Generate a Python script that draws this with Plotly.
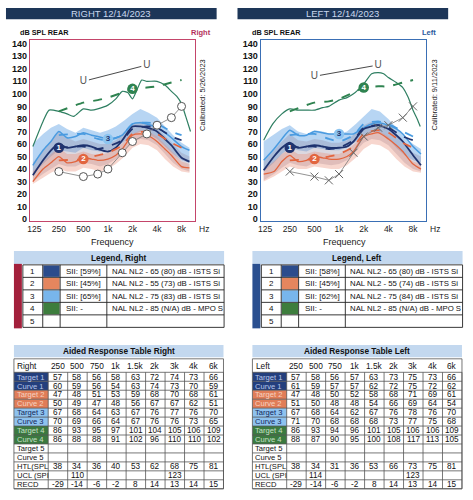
import plotly.graph_objects as go
import math

W, H = 473, 500

# ---------------- DATA ----------------
table_freqs = [250, 500, 750, 1000, 1500, 2000, 3000, 4000, 6000]
table_freq_labels = ["250", "500", "750", "1k", "1.5k", "2k", "3k", "4k", "6k"]
target_freqs = [250, 500, 750, 1000, 1500, 2000, 3000, 4000, 6000, 8000]
htl_freqs = [250, 500, 750, 1000, 1500, 2000, 3000, 4000, 6000, 8000]

x_tick_vals = [125, 250, 500, 1000, 2000, 4000, 8000]
x_tick_text = ["125", "250", "500", "1k", "2k", "4k", "8k"]
y_tick_vals = list(range(0, 141, 10))

# Right ear table values
R_target1 = [57, 58, 56, 58, 63, 72, 74, 73, 66]
R_curve1 = [60, 59, 56, 54, 63, 74, 73, 70, 59]
R_target2 = [47, 48, 51, 53, 59, 68, 70, 68, 61]
R_curve2 = [50, 49, 47, 48, 56, 67, 67, 62, 51]
R_target3 = [67, 68, 64, 63, 67, 76, 77, 76, 70]
R_curve3 = [70, 69, 66, 64, 67, 76, 76, 73, 65]
R_target4 = [86, 93, 95, 97, 101, 104, 105, 106, 109]
R_curve4 = [86, 88, 88, 91, 102, 96, 110, 110, 102]
R_htl = [38, 34, 36, 40, 53, 62, 68, 75, 81]
R_ucl = [None, 110, None, None, None, None, 123, None, None]
R_recd = [-29, -14, -6, -2, 8, 14, 13, 14, 15]

# Left ear table values
L_target1 = [57, 58, 56, 57, 63, 73, 75, 73, 66]
L_curve1 = [61, 59, 57, 57, 62, 72, 75, 72, 62]
L_target2 = [47, 48, 50, 52, 58, 68, 71, 69, 61]
L_curve2 = [51, 50, 48, 48, 54, 66, 69, 64, 54]
L_target3 = [67, 68, 64, 62, 67, 76, 78, 76, 70]
L_curve3 = [71, 70, 68, 68, 68, 73, 77, 75, 68]
L_target4 = [86, 93, 94, 96, 101, 105, 106, 106, 109]
L_curve4 = [88, 87, 90, 95, 100, 108, 117, 113, 105]
L_htl = [38, 34, 31, 36, 53, 66, 73, 75, 81]
L_ucl = [None, 114, None, None, None, None, 123, None, None]
L_recd = [-29, -14, -6, -2, 8, 14, 13, 14, 15]

# 8 kHz values (not in table)
R_target_8k = [63, 57, 67, 111]
L_target_8k = [63, 57, 66, 111]
R_htl_8k = 90
L_htl_8k = 90

curve_freqs = [120, 160, 200, 250, 315, 400, 500, 630, 750, 1000, 1250, 1500,
               2000, 2500, 3000, 4000, 5000, 6000, 8000, 10000]
R_c1_full = [35, 47, 55, 60, 57, 58, 59, 58, 56, 54, 57, 63, 74, 74, 73, 70, 64, 59, 49, 46]
R_c2_full = [30, 40, 45, 50, 45, 46, 49, 48, 47, 48, 51, 56, 67, 68, 67, 62, 56, 51, 42, 41]
R_c3_full = [43, 55, 62, 70, 65, 66, 69, 67, 66, 64, 65, 67, 76, 77, 76, 73, 69, 65, 58, 55]
L_c1_full = [39, 50, 57, 61, 57, 58, 59, 58, 57, 57, 58, 62, 72, 74, 75, 72, 67, 62, 51, 43]
L_c2_full = [36, 38, 46, 51, 46, 47, 50, 49, 48, 48, 50, 54, 66, 68, 69, 64, 59, 54, 44, 40]
L_c3_full = [47, 56, 64, 71, 67, 67, 70, 69, 68, 68, 68, 68, 73, 76, 77, 75, 72, 68, 58, 52]

R_mpo_freqs = [120, 160, 190, 250, 315, 380, 500, 630, 750, 1000, 1250, 1500, 1750,
               2000, 2300, 2600, 3000, 4000, 5000, 6000, 7000, 8000, 9000, 10300]
R_c4_full = [58, 78, 87, 86, 84, 82, 88, 87, 88, 91, 96, 102, 101,
             96, 104, 111, 110, 110, 107, 102, 98, 92, 82, 70]
L_mpo_freqs = [120, 155, 200, 250, 315, 400, 500, 630, 750, 1000, 1250, 1500,
               2000, 2500, 3000, 3500, 4000, 5000, 6000, 7000, 8000, 9000, 9800]
L_c4_full = [63, 76, 84, 88, 87, 87, 87, 89, 90, 95, 97, 100,
             108, 116, 117, 116, 113, 109, 105, 97, 87, 80, 74]

# speech ranges (shaded bands)
band_freqs = [120, 160, 200, 250, 315, 400, 500, 630, 800, 1000, 1250, 1600,
              2000, 2500, 3150, 4000, 5000, 6300, 8000, 10000]
R_b3_hi = [60, 68, 73, 76, 72, 69, 73, 71, 69, 71, 74, 79, 84, 88, 85, 81, 74, 67, 61, 57]
R_b3_lo = [36, 44, 50, 55, 54, 53, 57, 55, 54, 55, 57, 62, 67, 70, 68, 64, 58, 52, 47, 45]
R_b1_hi = [45, 55, 63, 70, 65, 62, 64, 62, 60, 60, 63, 70, 76, 78, 77, 73, 67, 60, 53, 50]
R_b1_lo = [30, 36, 40, 44, 42, 42, 45, 44, 42, 44, 48, 55, 62, 64, 63, 59, 52, 45, 40, 38]
R_b2_hi = [38, 46, 52, 57, 52, 52, 54, 52, 51, 53, 56, 62, 68, 71, 70, 66, 60, 53, 46, 44]
R_b2_lo = [28, 33, 37, 40, 38, 38, 41, 40, 38, 40, 44, 50, 57, 60, 59, 55, 48, 42, 38, 37]
L_b3_hi = [62, 68, 72, 75, 70, 68, 71, 70, 68, 68, 70, 76, 82, 88, 86, 80, 73, 66, 60, 56]
L_b3_lo = [38, 45, 52, 57, 55, 54, 57, 56, 55, 55, 57, 62, 67, 70, 69, 64, 57, 51, 47, 45]
L_b1_hi = [46, 55, 62, 68, 63, 62, 64, 63, 61, 61, 63, 69, 75, 78, 77, 73, 66, 59, 53, 50]
L_b1_lo = [31, 36, 41, 45, 43, 42, 45, 44, 43, 44, 47, 54, 61, 64, 63, 59, 52, 45, 40, 38]
L_b2_hi = [40, 46, 52, 56, 52, 52, 54, 53, 52, 52, 55, 61, 67, 71, 70, 66, 59, 52, 46, 44]
L_b2_lo = [30, 34, 38, 42, 40, 40, 42, 41, 40, 40, 43, 49, 56, 60, 59, 55, 48, 42, 38, 37]

# legend tables
R_sii = ["SII: [59%]", "SII: [45%]", "SII: [65%]", "SII: -", ""]
L_sii = ["SII: [58%]", "SII: [45%]", "SII: [62%]", "SII: -", ""]
R_desc = ["NAL NL2 - 65 (80) dB - ISTS Si", "NAL NL2 - 55 (73) dB - ISTS Si",
          "NAL NL2 - 75 (83) dB - ISTS Si", "NAL NL2 - 85 (N/A) dB - MPO S", ""]
L_desc = ["NAL NL2 - 65 (80) dB - ISTS Si", "NAL NL2 - 55 (74) dB - ISTS Si",
          "NAL NL2 - 75 (84) dB - ISTS Si", "NAL NL2 - 85 (N/A) dB - MPO S", ""]
legend_nums = ["1", "2", "3", "4", "5"]
row_labels = ["Target 1", "Curve 1", "Target 2", "Curve 2", "Target 3", "Curve 3",
              "Target 4", "Curve 4", "Target 5", "Curve 5", "HTL(SPL", "UCL (SPI", "RECD"]

# ---------------- STYLE ----------------
NAVY = "#1f336f"
ORANGE = "#e2653f"
LBLUE = "#4a9be0"
GREEN = "#2f8350"
GREEN_S = "#2f7f62"
SW = ["#2b4c8c", "#e5865e", "#78b6ec", "#3d7d3d", "#ffffff"]
FONT = "Liberation Sans, Arial, sans-serif"

def px(x):
    return x / W

def py(y):
    return 1 - y / H

shapes = []
annotations = []

def rect(x0, y0, x1, y1, fill=None, line=None, lw=1):
    shapes.append(dict(type="rect", xref="paper", yref="paper",
                       x0=px(x0), x1=px(x1), y0=py(y1), y1=py(y0),
                       fillcolor=fill if fill else "rgba(0,0,0,0)",
                       line=dict(color=line if line else "rgba(0,0,0,0)",
                                 width=lw if line else 0)))

def hline(x0, x1, y, color="#555", lw=0.8):
    shapes.append(dict(type="line", xref="paper", yref="paper",
                       x0=px(x0), x1=px(x1), y0=py(y), y1=py(y),
                       line=dict(color=color, width=lw)))

def vline(x, y0, y1, color="#555", lw=0.8):
    shapes.append(dict(type="line", xref="paper", yref="paper",
                       x0=px(x), x1=px(x), y0=py(y0), y1=py(y1),
                       line=dict(color=color, width=lw)))

def text(x, y, s, size=8.5, color="#111", bold=False, xanchor="center", angle=0):
    annotations.append(dict(x=px(x), y=py(y), xref="paper", yref="paper",
                            text=s, showarrow=False, xanchor=xanchor, yanchor="middle",
                            textangle=angle,
                            font=dict(family=FONT, size=size, color=color,
                                      weight="bold" if bold else "normal")))

fig = go.Figure()

# ---------------- CHARTS ----------------
def add_chart(xa, ya, c1, c2, c3, mpo_f, c4, bands, targets, t8k, htl, h8k, ucl, marker_sym):
    def band(lo, hi, color):
        fig.add_trace(go.Scatter(x=band_freqs + band_freqs[::-1], y=hi + lo[::-1],
                                 fill="toself", fillcolor=color, line=dict(width=0),
                                 mode="lines", hoverinfo="skip", showlegend=False,
                                 xaxis=xa, yaxis=ya))
    (b3lo, b3hi), (b1lo, b1hi), (b2lo, b2hi) = bands
    band(b3lo, b3hi, "rgba(112,172,232,0.50)")
    band(b1lo, b1hi, "rgba(150,140,165,0.34)")
    band(b2lo, b2hi, "rgba(232,140,118,0.36)")

    def line(xs, ys, color, width, dash="solid"):
        fig.add_trace(go.Scatter(x=xs, y=ys, mode="lines",
                                 line=dict(color=color, width=width, dash=dash, shape="spline",
                                           smoothing=0.6),
                                 showlegend=False, xaxis=xa, yaxis=ya))
    t1, t2, t3, t4 = targets
    line(curve_freqs, c3, LBLUE, 1.5)
    line(curve_freqs, c2, ORANGE, 1.3)
    line(curve_freqs, c1, NAVY, 1.8)
    line(mpo_f, c4, GREEN_S, 1.2)
    line(target_freqs, t3 + [t8k[2]], LBLUE, 1.8, "dash")
    line(target_freqs, t2 + [t8k[1]], ORANGE, 1.8, "dash")
    line(target_freqs, t1 + [t8k[0]], NAVY, 1.8, "dash")
    line(target_freqs, t4 + [t8k[3]], GREEN, 2.0, "dash")

    if marker_sym == "circle":
        mk = dict(symbol="circle", size=8, color="white", line=dict(color="#555", width=1))
    else:
        mk = dict(symbol="x-thin", size=8, color="#666", line=dict(color="#666", width=1))
    fig.add_trace(go.Scatter(x=htl_freqs, y=htl + [h8k], mode="lines+markers",
                             line=dict(color="#777", width=0.8), marker=mk,
                             showlegend=False, xaxis=xa, yaxis=ya))
    ux = [f for f, u in zip(table_freqs, ucl) if u is not None]
    uy = [u for u in ucl if u is not None]
    fig.add_trace(go.Scatter(x=ux, y=uy, mode="lines+markers+text", text=["U"] * len(ux),
                             textposition="middle center",
                             textfont=dict(family=FONT, size=10, color="#555"),
                             line=dict(color="#333", width=0.9),
                             marker=dict(symbol="square", size=11, color="white"),
                             showlegend=False, xaxis=xa, yaxis=ya))
    idx = [0, 1, 3, 5]
    lx = [table_freqs[i] for i in idx]
    ly = [t1[idx[0]], t2[idx[1]], c3[curve_freqs.index(table_freqs[idx[2]])], t4[idx[3]]]
    fig.add_trace(go.Scatter(x=lx, y=ly, mode="markers+text", text=["1", "2", "3", "4"],
                             textposition="middle center",
                             textfont=dict(family=FONT, size=8, color=["white", "white", NAVY, "white"],
                                           weight="bold"),
                             marker=dict(size=10.5, color=[NAVY, ORANGE, "#8cc4f0", GREEN],
                                         line=dict(width=0)),
                             showlegend=False, xaxis=xa, yaxis=ya))

add_chart("x", "y", R_c1_full, R_c2_full, R_c3_full, R_mpo_freqs, R_c4_full,
          [(R_b3_lo, R_b3_hi), (R_b1_lo, R_b1_hi), (R_b2_lo, R_b2_hi)],
          [R_target1, R_target2, R_target3, R_target4], R_target_8k, R_htl, R_htl_8k, R_ucl,
          "circle")
add_chart("x2", "y2", L_c1_full, L_c2_full, L_c3_full, L_mpo_freqs, L_c4_full,
          [(L_b3_lo, L_b3_hi), (L_b1_lo, L_b1_hi), (L_b2_lo, L_b2_hi)],
          [L_target1, L_target2, L_target3, L_target4], L_target_8k, L_htl, L_htl_8k, L_ucl,
          "x")

xr = [math.log10(125) - (4.5 / 24.7) * math.log10(2), 0]
xr[1] = xr[0] + (166 / 24.7) * math.log10(2)
yr = [-1.6, 143.2]

def xaxis_cfg(d0, d1, color, anchor):
    return dict(type="log", range=xr, domain=[px(d0), px(d1)], tickvals=x_tick_vals,
                ticktext=x_tick_text, showgrid=False, zeroline=False, showline=True,
                mirror=True, linecolor=color, linewidth=1, ticks="", anchor=anchor,
                tickfont=dict(family=FONT, size=8.5, color="#222"), fixedrange=True)

def yaxis_cfg(anchor, color):
    return dict(range=yr, domain=[py(222), py(39)], tickvals=y_tick_vals,
                showgrid=False, zeroline=False, showline=True, mirror=True,
                linecolor=color, linewidth=1, ticks="", anchor=anchor,
                tickfont=dict(family=FONT, size=9, color="#111", weight="bold"),
                fixedrange=True)

RED_B = "#c4456a"
BLUE_B = "#3a6fb5"

for (x0, x1, title, side, col, cal, fx, cx, sx, dbx) in [
        (3, 215, "RIGHT 12/14/2023", "Right", "#b3305a", "Calibrated: 5/26/2023", 110, 201, 199, 15),
        (236, 448, "LEFT 12/14/2023", "Left", "#2a5aa0", "Calibrated: 9/11/2023", 344, 434, 429, 249)]:
    rect(x0, 7, x1, 18.3, fill="#1d3658")
    text((x0 + x1) / 2, 12.8, title, size=9.5, color="#c9d6ee")
    text(dbx, 31.5, "dB SPL REAR", size=7.3, bold=True, color="#111", xanchor="left")
    text(sx, 31.5, side, size=7.5, bold=True, color=col)
    text(cx, 95, cal, size=7.5, color="#222", angle=-90)
    text(fx, 243, "Frequency", size=9, color="#222")
text(202, 229.5, "Hz", size=8.5, color="#222")
text(435, 229.5, "Hz", size=8.5, color="#222")

# ---------------- LEGEND TABLES ----------------
def legend_table(x0, strip_color, title, sii, desc):
    cols = [0, 20, 37.5, 84.5, 202.5]
    tx = x0 + 9
    rect(x0, 252, tx + cols[-1], 265, fill="#c3d8ef")
    text((x0 + tx + cols[-1]) / 2, 258.6, title, size=8.3, bold=True, color="#111")
    rect(x0, 265, x0 + 8, 330, fill=strip_color)
    top, rh = 266, 12.6
    for i in range(5):
        y0 = top + i * rh
        rect(tx + cols[1] + 0.5, y0 + 0.5, tx + cols[2] - 0.5, y0 + rh - 0.5, fill=SW[i])
        text(tx + (cols[0] + cols[1]) / 2, y0 + rh / 2, legend_nums[i], size=8)
        text(tx + cols[2] + 4, y0 + rh / 2, sii[i], size=8, xanchor="left")
        text(tx + cols[3] + 3, y0 + rh / 2, desc[i], size=7.8, xanchor="left")
    for i in range(6):
        hline(tx, tx + cols[-1], top + i * rh, color="#222", lw=0.9)
    for c in cols:
        vline(tx + c, top, top + 5 * rh, color="#222", lw=0.9)

legend_table(11, "#a3203c", "Legend, Right", R_sii, R_desc)
legend_table(251, "#2a4f8f", "Legend, Left", L_sii, L_desc)

# ---------------- DATA TABLES ----------------
label_styles = [("#233f7d", "#b9c6ea"), ("#233f7d", "#b9c6ea"),
                ("#e07d58", "#f6d2c0"), ("#e07d58", "#f6d2c0"),
                ("#8ec2ef", "#14285a"), ("#8ec2ef", "#14285a"),
                ("#3b7a40", "#c6e0c6"), ("#3b7a40", "#c6e0c6")]

def data_table(x0, title, corner, rows):
    lw_, cw = 34.5, 19.6
    x_end = x0 + lw_ + 9 * cw
    rect(x0, 346.7, x_end, 359, fill="#c3d8ef")
    text((x0 + x_end) / 2, 353, title, size=8.3, bold=True, color="#111")
    hy0, hy1 = 360.7, 374.3
    rh = (491.7 - hy1) / 13
    text(x0 + 1.5, (hy0 + hy1) / 2, corner, size=8.3, xanchor="left")
    for j, lab in enumerate(table_freq_labels):
        text(x0 + lw_ + (j + 0.5) * cw, (hy0 + hy1) / 2, lab, size=8.3)
    for i, (lab, vals) in enumerate(zip(row_labels, rows)):
        y0 = hy1 + i * rh
        if i < len(label_styles):
            fill, tcol = label_styles[i]
            rect(x0, y0, x0 + lw_, y0 + rh, fill=fill)
        else:
            tcol = "#111"
        text(x0 + 1, y0 + rh / 2 + 0.3, lab, size=7.6, color=tcol, xanchor="left")
        for j, v in enumerate(vals):
            if v is not None:
                text(x0 + lw_ + (j + 0.5) * cw, y0 + rh / 2 + 0.3, str(v), size=8.2)
    rect(x0, hy0, x_end, 491.7, line="#666", lw=0.9)
    for i in range(14):
        hline(x0, x_end, hy1 + i * rh, color="#555", lw=0.8)
    for j in range(10):
        vline(x0 + lw_ + j * cw, hy1, 491.7, color="#555", lw=0.8)

empty = [None] * 9
data_table(11, "Aided Response Table Right", "Right",
           [R_target1, R_curve1, R_target2, R_curve2, R_target3, R_curve3, R_target4, R_curve4,
            empty, empty, R_htl, R_ucl, R_recd])
data_table(251, "Aided Response Table Left", "Left",
           [L_target1, L_curve1, L_target2, L_curve2, L_target3, L_curve3, L_target4, L_curve4,
            empty, empty, L_htl, L_ucl, L_recd])

fig.update_layout(
    width=W, height=H, margin=dict(l=0, r=0, t=0, b=0),
    paper_bgcolor="white", plot_bgcolor="white", showlegend=False,
    xaxis=xaxis_cfg(27, 193, RED_B, "y"), yaxis=yaxis_cfg("x", RED_B),
    xaxis2=xaxis_cfg(259.3, 426, BLUE_B, "y2"), yaxis2=yaxis_cfg("x2", BLUE_B),
    shapes=shapes, annotations=annotations,
    font=dict(family=FONT),
)

fig.write_html("out.html", config={"displayModeBar": False},
               post_script="document.body.style.margin='0';")
